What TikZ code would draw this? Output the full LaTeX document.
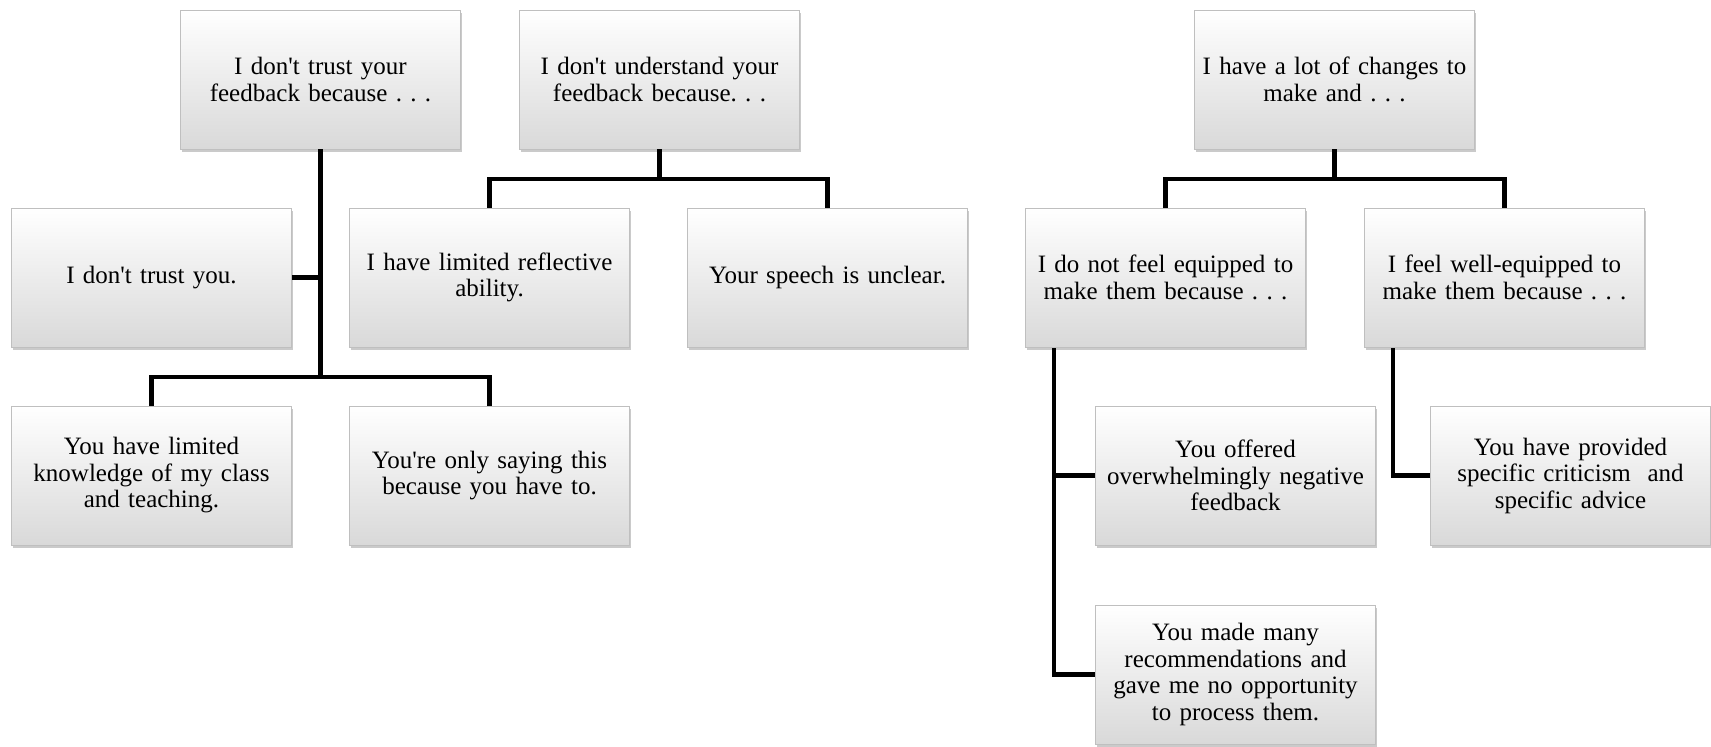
\documentclass[tikz,border=0pt]{standalone}
\usepackage{fontspec}
\setmainfont{Liberation Serif}
\usetikzlibrary{shadows}
\newcommand{\aq}{\textquotesingle}
\begin{document}
\frenchspacing
\begin{tikzpicture}[x=1pt,y=-1pt,
  box/.style={rectangle, minimum width=280pt, minimum height=139pt, inner sep=0pt,
    text width=276pt, align=center, top color=white, bottom color=gray!30,
    draw=gray!50, line width=0.8pt,
    drop shadow={shadow xshift=1.2pt, shadow yshift=-2.5pt, fill=gray!70, opacity=0.6},
    font=\fontsize{25}{26.5}\selectfont},
  conn/.style={draw=black, line width=4.6pt, line join=miter, line cap=butt}]
\useasboundingbox (0,0) rectangle (1711,747);
% row 1
\node[box] (A) at (320.5,79.5) {I don\aq t trust your\\feedback because . . .};
\node[box] (B) at (659.5,79.5) {I don\aq t understand your\\feedback because. . .};
\node[box] (C) at (1334.5,79.5) {I have a lot of changes to\\make and . . .};
% row 2
\node[box] (trustyou) at (151.5,277.5) {I don\aq t trust you.};
\node[box] (reflective) at (489.5,277.5) {I have limited reflective\\ability.};
\node[box] (speech) at (827.5,277.5) {Your speech is unclear.};
\node[box] (notfeel) at (1165.5,277.5) {I do not feel equipped to\\make them because . . .};
\node[box] (well) at (1504.5,277.5) {I feel well-equipped to\\make them because . . .};
% row 3
\node[box] (knowledge) at (151.5,475.5) {You have limited\\knowledge of my class\\and teaching.};
\node[box] (onlysaying) at (489.5,475.5) {You\aq re only saying this\\because you have to.};
\node[box] (offered) at (1235.5,475.5) {You offered\\overwhelmingly negative\\feedback};
\node[box] (provided) at (1570.5,475.5) {You have provided\\specific criticism\ \ and\\specific advice};
% row 4
\node[box] (many) at (1235.5,674.5) {You made many\\recommendations and\\gave me no opportunity\\to process them.};
% junction coordinates
\coordinate (j1) at (320.5,377);
\coordinate (j2) at (659.5,179);
\coordinate (j3) at (1334.5,179);
\coordinate (v1) at (1054,348);
\coordinate (v2) at (1393,348);
% tree 1
\draw[conn] (A.south) -- (j1);
\draw[conn] (trustyou.east) -- (trustyou.east -| j1);
\draw[conn] (knowledge.north) |- (j1) -| (onlysaying.north);
% tree 2
\draw[conn] (B.south) -- (j2);
\draw[conn] (reflective.north) |- (j2) -| (speech.north);
% tree 3
\draw[conn] (C.south) -- (j3);
\draw[conn] (notfeel.north) |- (j3) -| (well.north);
\draw[conn] (v1) |- (many.west);
\draw[conn] (offered.west) -- (offered.west -| v1);
\draw[conn] (v2) |- (provided.west);
\end{tikzpicture}
\end{document}
